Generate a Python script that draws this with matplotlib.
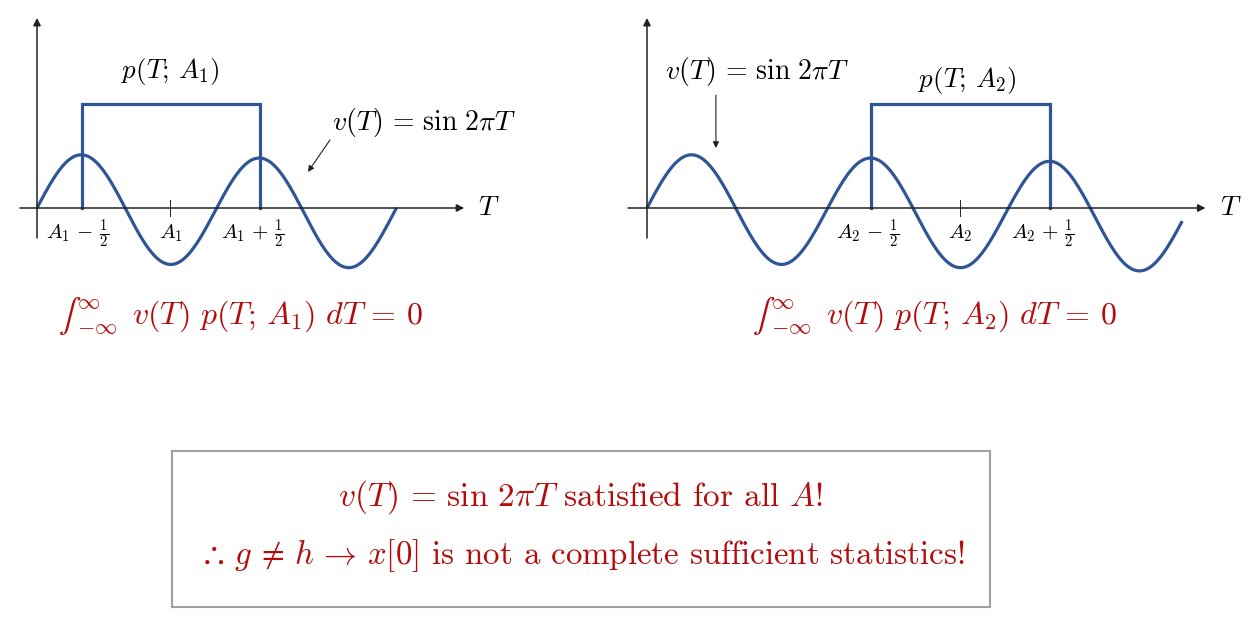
import numpy as np
import matplotlib
matplotlib.use("Agg")
import matplotlib.pyplot as plt
from matplotlib.transforms import offset_copy

plt.rcParams["mathtext.fontset"] = "cm"
plt.rcParams["font.family"] = ["cmr10", "DejaVu Serif"]
plt.rcParams["axes.formatter.use_mathtext"] = True

# values (T in periods, v in amplitudes)
panel_names = ["1", "2"]
a_values = [0.75, 1.75]          # centre of each rectangular pdf
rect_height = 1.93
t_end = [2.02, 2.99]             # where each sine curve stops
drift = 0.06                     # slight downward tilt of the hand drawn curve
x_axis_range = [(-0.096, 2.40), (-0.106, 3.12)]
integral_start = [0.124, 0.592]  # left edge of the red integral, in T
p_label_pos = [(0.747, 2.52), (1.79, 2.37)]

BLUE = "#2f5597"
RED = "#b40c0c"
AXC = "#222222"


def put(ax, x, y, s, dx=0, dy=0, **kw):
    # text at a data point, shifted by dx, dy pixels
    tr = offset_copy(ax.transData, fig=ax.figure, x=dx, y=dy, units="dots")
    ax.text(x, y, s, transform=tr, **kw)


def integral(ax, x, y, n):
    # inline (text style) integral: small sign, limits beside it
    put(ax, x, y, "\u222b", 0, 0, family="STIXGeneral", fontsize=24, color=RED,
        ha="left", va="baseline")
    put(ax, x, y, r"$\infty$", 18, 21, fontsize=16, color=RED, ha="left", va="center")
    put(ax, x, y, r"$-\infty$", 18, -4, fontsize=16, color=RED, ha="left", va="center")
    put(ax, x, y, r"$v(T)\ p(T;\,A_%s)\ dT\,=\,0$" % n, 73, 0, fontsize=23,
        color=RED, ha="left", va="baseline")


def draw_panel(ax, k):
    a = a_values[k]
    n = panel_names[k]
    x0, x1 = x_axis_range[k]
    arrow = dict(arrowstyle="-|>", color=AXC, lw=1.1, mutation_scale=11, shrinkA=0, shrinkB=0)
    ax.annotate("", xy=(x1, 0), xytext=(x0, 0), arrowprops=arrow)
    ax.annotate("", xy=(0, 3.52), xytext=(0, -0.556), arrowprops=arrow)

    t = np.linspace(0, t_end[k], 600)
    ax.plot(t, np.sin(2 * np.pi * t) - drift * t, color=BLUE, lw=2.3, solid_capstyle="butt")
    ax.plot([a - 0.5, a - 0.5, a + 0.5, a + 0.5], [0, rect_height, rect_height, 0],
            color=BLUE, lw=2.3, solid_joinstyle="miter")
    ax.plot([a, a], [-0.15, 0.15], color=AXC, lw=0.7)

    ax.text(x1 + 0.14, 0, "$T$", fontsize=20, va="center", ha="center")
    lbl_y = -0.47
    ax.text(a - 0.52, lbl_y, r"$A_%s\,-\,\frac{1}{2}$" % n, fontsize=15, ha="center", va="center")
    ax.text(a, lbl_y, r"$A_%s$" % n, fontsize=15, ha="center", va="center")
    ax.text(a + 0.46, lbl_y, r"$A_%s\,+\,\frac{1}{2}$" % n, fontsize=15, ha="center", va="center")

    px, py = p_label_pos[k]
    ax.text(px, py, r"$p(T;\,A_%s)$" % n, fontsize=19.5, ha="center", va="center")
    integral(ax, integral_start[k], -2.148, n)


fig = plt.figure(figsize=(12.58, 6.28), dpi=100)
W, H = 1258.0, 628.0

# left panel: origin at pixel (37, 208), 178 px per period, 54 px per unit
axL = fig.add_axes([0, 1 - 350 / H, 600 / W, 350 / H])
axL.set_xlim(-37 / 178, (600 - 37) / 178)
axL.set_ylim((208 - 350) / 54, 208 / 54)
# right panel: origin at pixel (647, 208), 179 px per period
axR = fig.add_axes([600 / W, 1 - 350 / H, 658 / W, 350 / H])
axR.set_xlim(-47 / 179, (658 - 47) / 179)
axR.set_ylim((208 - 350) / 54, 208 / 54)

for k, ax in enumerate([axL, axR]):
    ax.axis("off")
    draw_panel(ax, k)

small_arrow = dict(arrowstyle="-|>", color=AXC, lw=0.8, mutation_scale=9, shrinkA=0, shrinkB=0)
vlabel = r"$v(T)\,=\,\sin\,2\pi T$"
axL.text(1.657, 1.59, vlabel, fontsize=20, ha="left", va="center")
axL.annotate("", xy=(1.522, 0.667), xytext=(1.646, 1.26), arrowprops=small_arrow)
axR.text(0.10, 2.52, vlabel, fontsize=20, ha="left", va="center")
axR.annotate("", xy=(0.385, 1.11), xytext=(0.385, 2.09), arrowprops=small_arrow)

# conclusion box
axB = fig.add_axes([172 / W, 1 - 607 / H, 818 / W, 156 / H])
axB.set_xticks([])
axB.set_yticks([])
for s in axB.spines.values():
    s.set_color("#a0a0a0")
    s.set_linewidth(1.5)
axB.text(0.5, 0.705, r"$v(T)\,=\,\sin\,2\pi T$ satisfied for all $A$!", fontsize=24,
         color=RED, ha="center", va="center", transform=axB.transAxes)
axB.text(0.5, 0.333,
         r"$\therefore\,g\,\neq\,h\,\rightarrow\,x[0]$ is not a complete sufficient statistics!",
         fontsize=23.7, color=RED, ha="center", va="center", transform=axB.transAxes)

fig.savefig("out.png", dpi=100)
